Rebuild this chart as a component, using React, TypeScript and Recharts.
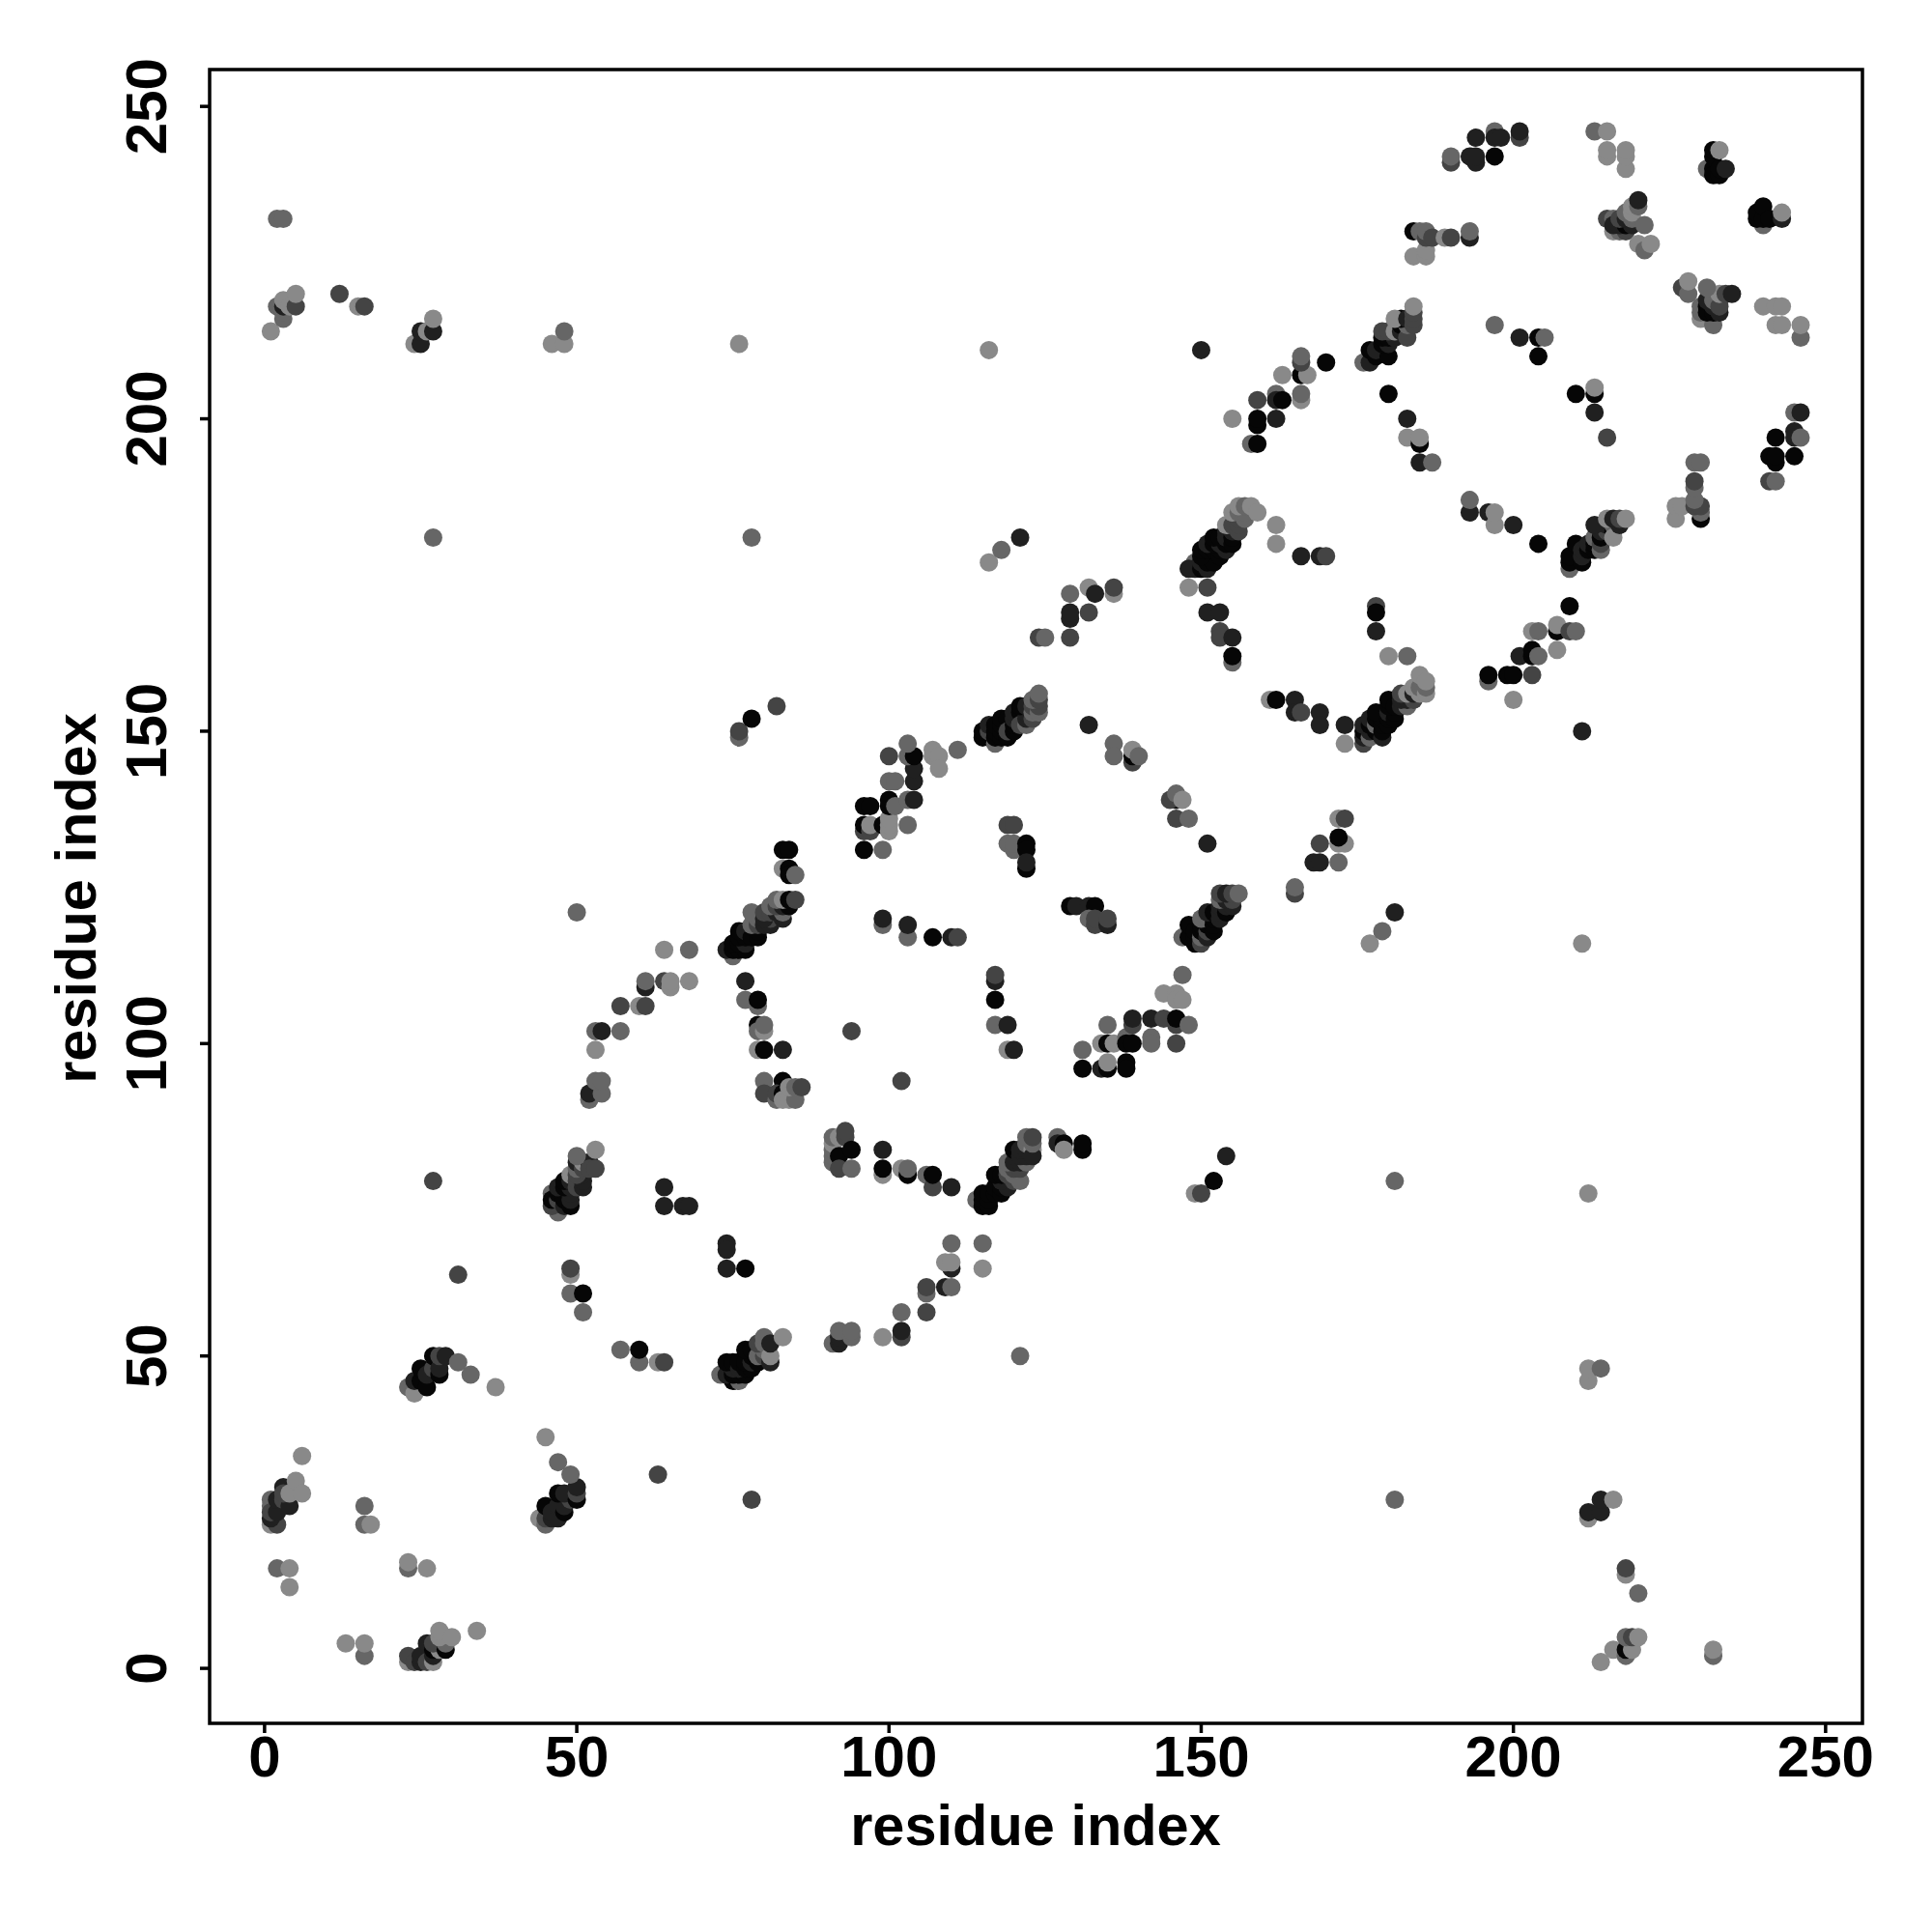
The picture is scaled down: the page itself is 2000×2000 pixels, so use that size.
import * as React from 'react';
import {
  ScatterChart,
  Scatter,
  XAxis,
  YAxis,
  ReferenceArea,
  Customized
} from 'recharts';

// grey level of a contact, 0 = darkest
const greys = ['#060606', '#202020', '#444444', '#666666', '#898989'];
const tickValues = [0, 50, 100, 150, 200, 250];
const axisTitle = 'residue index';
const lowLimit = -8.8;
const highLimit = 255.9;

// [i, j, grey level]
const nearOriginA = [[1,27,3],[1,26,3],[1,23,4],[2,23,2],[1,24,1],[1,25,2],[2,25,1],[2,27,1],[3,27,2],[4,26,1],[3,29,1],[3,28,2],[4,28,4],[5,30,4],[6,28,4],[6,34,4]];
const nearOriginB = [[23,1,4],[23,2,2],[24,1,2],[25,1,1],[25,2,1],[26,1,2],[27,1,4],[27,2,1],[26,4,1],[27,3,0],[28,3,4],[27,4,2],[29,3,0],[29,4,3],[28,5,4],[28,6,4],[30,5,4],[34,6,4]];
const nearOriginC = [[16,26,3],[16,23,3],[17,23,4],[2,16,3],[4,16,4],[4,13,4],[23,16,3],[23,17,4],[26,16,4],[13,4,4],[16,2,3],[16,4,4]];
const helixA = [[23,45,3],[24,44,4],[24,46,1],[25,46,0],[25,48,0],[26,45,0],[26,47,1],[27,48,2],[27,50,0],[28,47,0],[28,48,1],[28,50,2],[29,50,1],[31,49,3],[33,47,3],[37,45,4]];
const helixB = [[44,24,4],[45,23,3],[45,24,2],[46,24,1],[45,26,0],[46,25,1],[47,24,1],[47,26,1],[48,25,0],[48,26,1],[49,27,2],[47,28,0],[48,28,1],[50,27,0],[50,28,2],[50,29,1],[49,31,3],[47,33,3],[45,37,4]];
const isolated = [[31,63,2],[63,31,2],[27,78,2],[78,27,2],[27,181,3],[181,27,3],[78,181,3],[181,78,3],[50,121,3],[121,50,3],[116,211,4],[211,116,4],[150,211,1],[211,150,1],[76,212,4],[212,76,4],[94,102,2],[102,94,2]];
const ringA = [[49,63,4],[49,64,2],[49,60,3],[51,60,0],[51,57,3],[57,51,3],[60,49,3],[60,51,0],[63,49,4],[64,49,2],[64,77,1],[64,74,1],[67,74,1],[68,74,1],[74,68,1],[74,67,1],[74,64,1],[77,64,0]];
const strandA = [[47,73,3],[46,74,2],[46,76,3],[46,75,0],[47,75,2],[47,76,0],[48,74,1],[48,76,1],[48,75,0],[49,74,0],[49,75,1],[49,76,1],[47,77,1],[48,77,0],[49,77,1],[48,78,0],[49,78,1],[49,79,4],[50,77,2],[50,78,2],[51,77,1],[51,78,1],[51,79,1],[50,79,2],[50,80,3],[50,81,1],[51,80,2],[51,81,4],[52,81,1],[52,80,2],[50,82,3],[53,80,2],[53,83,4]];
const strandB = [[73,47,3],[75,46,0],[76,46,3],[74,47,1],[75,47,0],[76,47,0],[77,47,0],[75,48,1],[74,49,0],[75,49,0],[76,48,1],[76,49,0],[77,48,0],[78,48,0],[77,49,0],[78,49,1],[78,50,0],[79,49,0],[77,51,0],[78,51,0],[79,51,0],[79,50,3],[80,50,2],[80,51,3],[79,52,2],[80,52,3],[81,49,1],[81,50,4],[80,53,3],[81,52,1],[83,53,4]];
const turnA = [[52,91,3],[52,92,1],[54,92,3],[53,94,3],[54,94,3],[53,99,4],[53,102,3],[54,102,1],[57,102,3],[57,106,2],[60,106,4],[61,106,2],[61,109,1],[61,110,3],[64,110,2],[65,109,4],[65,110,4],[68,110,4],[64,115,4],[68,115,3]];
const turnB = [[91,52,3],[92,52,1],[92,53,1],[92,54,3],[94,53,3],[94,54,3],[99,53,4],[102,53,2],[102,54,1],[102,57,3],[106,57,2],[106,60,3],[106,61,2],[109,61,1],[110,61,3],[110,64,1],[109,65,4],[110,65,4],[110,68,3],[115,68,3],[115,64,4]];
const blockA = [[77,110,1],[77,107,3],[79,106,3],[79,107,0],[79,103,0],[79,102,3],[80,102,4],[80,103,3],[79,99,4],[80,99,0],[83,99,1],[80,94,3],[83,94,0],[80,92,2],[82,91,3],[82,92,2],[83,92,0],[83,91,4],[84,91,4],[85,91,3],[84,93,4],[85,93,3],[86,93,2]];
const blockB = [[91,81,3],[91,82,3],[91,83,3],[91,84,4],[91,85,3],[92,85,4],[93,85,2],[93,86,2],[92,82,0],[94,83,0],[92,80,2],[94,80,3],[99,83,1],[99,79,4],[99,80,0],[102,80,4],[103,79,0],[103,80,3],[106,79,3],[107,77,2],[107,79,0],[110,77,1]];
const strandC = [[75,114,3],[74,115,1],[75,115,0],[76,115,0],[77,115,0],[75,116,0],[76,116,0],[77,116,1],[76,117,0],[77,117,0],[76,118,0],[77,118,1],[78,118,1],[78,117,0],[79,117,0],[79,118,0],[78,119,3],[79,119,2],[79,120,3],[80,119,1],[81,119,1],[78,121,3],[81,120,2],[80,120,1],[80,121,2],[81,121,2],[83,120,1],[82,121,1],[83,121,3],[81,122,3],[82,122,2],[83,122,1],[84,122,0],[82,123,3],[83,123,4],[84,123,0],[85,123,2],[83,131,0],[84,131,0],[83,128,4],[84,128,0],[84,127,0],[85,127,3]];
const strandD = [[114,75,3],[115,74,0],[115,75,0],[115,76,0],[116,74,0],[116,75,0],[116,76,0],[117,76,0],[117,77,0],[118,76,0],[118,77,0],[119,77,1],[118,78,1],[117,79,0],[118,79,0],[120,78,2],[119,79,2],[120,79,3],[121,78,3],[119,80,3],[120,80,2],[121,80,2],[119,81,3],[120,81,1],[121,81,1],[122,81,3],[120,83,0],[121,82,1],[122,82,1],[121,83,1],[122,83,1],[122,84,3],[123,83,4],[123,82,1],[123,84,3],[122,85,3],[123,85,2],[127,85,3],[127,84,1],[128,84,0],[128,83,4],[131,83,0],[131,84,0]];
const blockC = [[96,131,0],[99,131,3],[96,134,2],[96,135,0],[97,134,2],[97,135,4],[99,135,0],[100,134,4],[100,135,4],[100,136,4],[103,135,3],[96,138,0],[97,138,0],[100,138,0],[100,139,0],[101,138,3],[103,139,3],[104,139,1],[100,142,3],[101,142,3],[104,142,1],[104,144,1],[100,146,2],[103,146,3],[104,146,0],[103,148,3],[107,146,4],[107,147,4],[108,146,4],[108,144,4],[111,147,3]];
const blockD = [[131,99,3],[131,96,0],[134,96,1],[134,100,4],[135,100,0],[135,96,0],[135,97,4],[135,103,3],[136,100,4],[138,101,3],[138,100,0],[138,97,0],[138,96,0],[139,103,2],[139,104,1],[139,100,0],[142,104,1],[142,101,3],[142,100,3],[144,104,2],[146,103,2],[146,104,0],[148,103,3],[146,100,2],[147,111,3],[144,108,4],[146,108,4],[146,107,4],[147,107,4]];
const ringB = [[99,119,3],[99,120,1],[103,117,3],[103,119,1],[107,117,0],[110,117,1],[111,117,2],[117,110,1],[117,111,2],[117,107,0],[117,103,3],[119,103,1],[119,99,4],[120,99,1]];
const ringC = [[119,135,2],[120,135,2],[119,132,3],[120,131,3],[120,132,3],[122,132,0],[122,131,0],[122,128,0],[122,129,1],[129,122,0],[130,122,1],[132,122,1],[133,122,0],[132,120,3],[133,119,2],[133,120,2],[135,119,1],[135,120,2]];
const ringD = [[146,139,0],[145,139,2],[146,140,3],[147,139,4],[146,136,2],[148,136,3],[151,132,1],[136,148,3],[136,146,3],[139,145,2],[139,146,0],[139,147,4],[140,146,3],[132,151,1]];
const strandE = [[116,149,4],[115,149,0],[115,150,0],[116,150,2],[116,151,1],[117,148,3],[117,149,0],[117,150,0],[117,151,0],[118,149,0],[118,150,0],[118,151,0],[119,149,0],[119,151,0],[118,152,0],[119,152,0],[119,150,2],[120,150,0],[120,151,0],[120,152,1],[121,152,2],[120,153,1],[121,153,0],[121,151,2],[122,151,3],[122,152,1],[122,153,1],[123,152,2],[121,154,0],[122,154,1],[123,153,3],[123,154,2],[124,153,3],[124,154,2],[123,155,3],[124,155,2],[124,156,3]];
const strandF = [[147,117,3],[149,116,0],[148,117,0],[148,119,0],[149,117,0],[149,118,0],[150,116,2],[150,117,3],[150,118,0],[151,117,1],[150,119,0],[151,118,2],[151,119,0],[152,118,0],[150,120,3],[151,120,3],[152,119,0],[152,120,0],[151,121,1],[152,121,0],[153,120,1],[153,121,1],[153,122,1],[154,121,0],[154,122,1],[155,122,1],[153,123,3],[154,123,1],[155,123,2],[153,124,2],[154,124,1],[155,124,2],[156,124,3]];
const farA = [[76,149,3],[76,150,2],[78,152,0],[82,154,2],[149,76,4],[150,76,2],[152,78,0],[154,82,1],[116,177,4],[118,179,3],[121,181,1],[177,116,4],[179,118,3],[181,121,1]];
const patchA = [[124,165,2],[125,165,3],[129,165,2],[129,168,1],[129,169,1],[132,169,2],[129,172,3],[132,173,4],[133,172,1],[136,172,4],[136,173,2]];
const patchB = [[165,124,2],[165,125,3],[169,132,2],[168,129,1],[169,129,1],[172,129,3],[172,132,4],[173,132,4],[172,133,0],[172,136,4],[173,136,2]];
const strandG = [[148,173,4],[149,177,3],[149,176,1],[148,176,1],[150,176,0],[150,177,1],[151,176,1],[151,177,0],[152,177,0],[150,178,0],[150,179,0],[151,179,0],[152,179,0],[153,178,0],[153,179,0],[154,179,1],[151,180,1],[152,180,0],[153,180,1],[154,180,0],[152,181,0],[153,181,0],[154,182,1],[154,181,1],[155,180,0],[155,181,0],[155,182,1],[154,183,4],[155,183,2],[156,182,2],[156,183,2],[156,184,2],[157,184,3],[155,185,4],[156,185,3],[157,185,3],[156,186,4],[157,186,3],[158,186,4],[159,185,4]];
const strandH = [[176,148,2],[176,149,1],[176,150,0],[177,149,3],[177,150,1],[176,151,1],[177,151,0],[178,150,0],[179,149,1],[177,152,1],[178,151,3],[178,152,0],[179,150,0],[179,151,0],[179,152,0],[178,153,0],[180,151,0],[180,152,0],[180,153,1],[181,152,0],[181,153,0],[180,154,0],[180,155,0],[181,154,0],[182,154,1],[183,154,3],[182,155,1],[183,155,1],[184,155,2],[182,156,2],[183,156,4],[184,156,1],[184,157,4],[185,156,4],[185,157,3],[186,156,4],[186,157,3],[185,159,4],[186,158,4]];
const ringE = [[151,173,2],[151,169,1],[153,169,1],[153,166,2],[153,165,2],[155,165,1],[155,161,3],[155,162,0],[161,155,4],[162,155,0],[165,155,1],[165,153,1],[166,153,2],[169,153,1],[169,151,1],[173,151,1],[173,148,4],[162,183,4],[162,180,4],[166,178,1],[169,178,1],[170,178,2],[178,170,2],[178,169,0],[178,166,1],[180,162,4],[183,162,3]];
const patchC = [[155,200,4],[158,196,3],[159,196,0],[159,199,0],[159,200,0],[162,200,1],[159,203,2],[162,204,3],[162,203,1],[163,203,0],[166,203,4],[166,204,3],[163,207,4],[166,207,0],[167,207,4],[166,209,2],[166,210,3],[170,209,0]];
const patchD = [[196,158,3],[196,159,0],[199,159,0],[200,159,0],[203,159,2],[200,155,4],[201,162,1],[203,162,0],[203,163,0],[204,162,3],[207,163,4],[203,166,4],[204,166,3],[207,166,0],[207,167,4],[209,166,2],[210,166,3],[209,170,0]];
const strandI = [[176,209,3],[177,209,1],[177,211,0],[178,210,0],[178,211,1],[180,210,0],[179,212,0],[180,212,1],[179,213,0],[180,213,0],[181,213,1],[179,214,2],[180,214,2],[181,214,4],[182,214,1],[182,215,0],[183,213,2],[183,215,3],[182,216,0],[181,216,4],[183,216,1],[184,215,2],[184,216,2],[184,217,2],[184,218,4]];
const strandJ = [[209,176,3],[209,177,0],[209,178,0],[211,177,0],[210,180,0],[211,178,1],[211,179,1],[212,179,0],[212,180,1],[213,179,0],[213,180,0],[213,181,3],[214,179,3],[214,180,2],[214,181,0],[214,182,1],[215,182,2],[215,183,1],[216,182,0],[213,183,1],[216,183,3],[216,181,4],[217,183,1],[215,184,4],[216,184,1],[217,184,2],[218,184,4]];
const ringF = [[180,204,0],[183,200,1],[183,197,4],[185,196,0],[185,197,4],[185,193,1],[187,193,3],[193,185,1],[193,187,3],[196,185,1],[197,183,4],[197,185,4],[200,183,1],[204,180,0],[197,215,3],[201,213,1],[204,213,0],[205,213,3],[204,210,0],[210,204,0],[213,204,0],[213,205,4],[213,201,1],[215,197,2]];
const topA = [[190,241,2],[190,242,3],[193,242,1],[194,241,1],[194,242,1],[194,245,1],[197,242,0],[197,246,3],[197,245,1],[198,245,1],[201,245,2],[201,246,1]];
const topB = [[241,190,2],[242,190,3],[241,194,0],[242,193,0],[242,194,0],[245,194,0],[242,197,0],[245,198,1],[245,197,1],[246,197,3],[245,201,3],[246,201,1]];
const topC = [[213,246,3],[215,246,4],[215,242,4],[215,243,4],[218,240,4],[218,242,4],[218,243,4]];
const topD = [[246,213,3],[246,215,4],[242,215,4],[243,215,4],[240,218,4],[242,218,4],[243,218,4]];
const topE = [[231,240,3],[232,242,0],[232,243,0],[232,240,0],[232,239,0],[233,239,0],[233,240,0],[234,240,1],[233,243,4],[240,231,3],[239,232,0],[239,233,0],[240,232,0],[240,234,0],[241,232,0],[243,232,1],[243,233,4]];
const topF = [[215,232,2],[216,230,4],[217,230,3],[218,230,2],[216,232,3],[216,231,1],[217,231,1],[218,231,0],[219,231,1],[217,232,2],[218,232,1],[219,232,3],[218,233,3],[219,233,4],[219,234,4],[220,234,3],[220,235,1],[221,231,3],[220,228,4],[221,227,3],[222,228,4]];
const topG = [[230,216,4],[230,217,3],[232,215,3],[230,218,3],[231,218,0],[231,217,0],[231,219,1],[232,217,0],[232,218,1],[233,217,1],[232,219,3],[233,219,3],[233,218,2],[233,220,4],[234,220,2],[235,220,1],[231,221,3],[227,221,2],[228,220,3],[228,222,4]];
const topH = [[184,226,4],[186,226,4],[186,227,4],[184,230,0],[185,230,3],[186,229,2],[186,230,3],[187,229,2],[189,229,4],[190,229,2],[193,229,1],[193,230,3]];
const topI = [[226,184,4],[226,186,4],[227,186,4],[230,184,0],[230,185,3],[229,186,2],[230,186,2],[229,187,3],[229,189,3],[229,190,2],[229,193,3],[230,193,3]];
const cornerA = [[1,214,4],[2,218,3],[3,216,3],[3,217,3],[3,218,1],[3,219,4],[4,218,4],[5,218,2],[5,220,4],[12,220,2],[15,218,4],[16,218,2],[2,232,3],[3,232,3],[24,212,4],[25,212,1],[25,214,1],[26,214,4],[27,214,1],[27,216,4],[46,212,4],[48,212,4],[48,214,3]];
const cornerB = [[214,1,4],[216,3,4],[218,2,3],[218,3,0],[219,3,4],[218,5,3],[219,5,2],[220,5,4],[220,12,3],[218,15,4],[218,16,2],[232,2,3],[232,3,4],[212,24,4],[212,25,1],[214,25,1],[214,27,1],[216,27,4],[212,46,4],[212,48,4],[214,48,3]];

const clusters = [
  nearOriginA, nearOriginB, nearOriginC, helixA, helixB, isolated, ringA, strandA, strandB,
  turnA, turnB, blockA, blockB, strandC, strandD, blockC, blockD, ringB, ringC, ringD,
  strandE, strandF, farA, patchA, patchB, strandG, strandH, ringE, patchC, patchD,
  strandI, strandJ, ringF, topA, topB, topC, topD, topE, topF, topG, topH, topI, cornerA, cornerB
];
const contacts = clusters.flat().map(([x, y, level]) => ({ x, y, level }));

const font = '"Liberation Sans", Arial, sans-serif';
const tickStyle = { fontFamily: font, fontWeight: 700, fontSize: 60, fill: '#000' };
const titleStyle = { fontFamily: font, fontWeight: 700, fontSize: 59.5, fill: '#000' };

const Dot = (props: any) => (
  <circle cx={props.cx} cy={props.cy} r={9.5} fill={greys[props.payload.level]} />
);

const XTick = (props: any) => (
  <text x={props.x} y={1839} textAnchor="middle" style={tickStyle}>
    {props.payload.value}
  </text>
);

const YTick = (props: any) => (
  <text
    transform={`translate(172 ${props.y}) rotate(-90)`}
    textAnchor="middle"
    style={tickStyle}
  >
    {props.payload.value}
  </text>
);

const Titles = () => (
  <g>
    <text x={1072} y={1910} textAnchor="middle" style={titleStyle}>
      {axisTitle}
    </text>
    <text
      transform="translate(99 930) rotate(-90)"
      textAnchor="middle"
      style={titleStyle}
    >
      {axisTitle}
    </text>
  </g>
);

export default function App() {
  return (
    <div style={{ position: 'absolute', left: 0, top: 0, width: 2000, height: 2000, background: '#fff' }}>
      <ScatterChart
        width={2000}
        height={2000}
        margin={{ top: 72, right: 72, bottom: 0, left: 0 }}
      >
        <XAxis
          dataKey="x"
          type="number"
          domain={[lowLimit, highLimit]}
          ticks={tickValues}
          interval={0}
          height={216}
          tick={<XTick />}
          tickSize={10}
          axisLine={false}
          tickLine={{ stroke: '#000', strokeWidth: 3.5 }}
        />
        <YAxis
          dataKey="y"
          type="number"
          domain={[lowLimit, highLimit]}
          ticks={tickValues}
          interval={0}
          width={217}
          tick={<YTick />}
          tickSize={10}
          axisLine={false}
          tickLine={{ stroke: '#000', strokeWidth: 3.5 }}
        />
        <ReferenceArea
          x1={lowLimit}
          x2={highLimit}
          y1={lowLimit}
          y2={highLimit}
          fill="none"
          stroke="#000"
          strokeWidth={3.5}
          ifOverflow="visible"
        />
        <Scatter data={contacts} shape={<Dot />} isAnimationActive={false} />
        <Customized component={Titles} />
      </ScatterChart>
    </div>
  );
}
